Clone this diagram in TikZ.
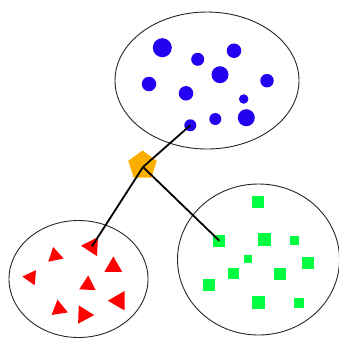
\documentclass[tikz,border=0pt]{standalone}
\usetikzlibrary{shapes.geometric}
\definecolor{dotblue}{RGB}{35,0,240}
\definecolor{trired}{RGB}{255,0,0}
\definecolor{sqgreen}{RGB}{0,255,64}
\definecolor{hubgold}{RGB}{250,175,0}
\tikzset{
  group/.style={ellipse, draw=black!85, line width=0.9pt, inner sep=0pt},
  dot/.style={circle, fill=dotblue, inner sep=0pt, minimum size=#1},
  tri/.style={regular polygon, regular polygon sides=3, fill=trired, inner sep=0pt, minimum size=#1},
  sq/.style={rectangle, fill=sqgreen, inner sep=0pt, minimum size=#1},
  hub/.style={regular polygon, regular polygon sides=5, fill=hubgold, inner sep=0pt, minimum size=30pt},
  link/.style={line width=1.8pt, black}
}
\begin{document}
\begin{tikzpicture}[x=1pt,y=-1pt]
\useasboundingbox (0,0) rectangle (339,338);

% three groups
\node[group, minimum width=184pt, minimum height=137pt] (gblue) at (207,80.5) {};
\node[group, minimum width=139pt, minimum height=117pt] (gred) at (78.5,279) {};
\node[group, minimum width=162pt, minimum height=151pt] (ggreen) at (258.5,259.5) {};

% blue circles
\node[dot=19pt] (b1) at (162.3,47.7) {};
\node[dot=13pt] (b2) at (197.7,59.3) {};
\node[dot=14.5pt] (b3) at (234,50.7) {};
\node[dot=17pt] (b4) at (220,74.7) {};
\node[dot=14.5pt] (b5) at (149,84) {};
\node[dot=14.5pt] (b6) at (186,93.3) {};
\node[dot=13.5pt] (b7) at (267,80.7) {};
\node[dot=9.5pt] (b8) at (243.7,99) {};
\node[dot=17pt] (b9) at (246.3,117.7) {};
\node[dot=12pt] (b10) at (215.3,119) {};
\node[dot=12pt] (b11) at (190.3,125.3) {};

% red triangles
\node[tri=22pt, rotate=87] (r1) at (92,246.3) {};
\node[tri=18pt, rotate=12] (r2) at (55,255.7) {};
\node[tri=20.5pt, rotate=0] (r3) at (113.3,266.7) {};
\node[tri=17.5pt, rotate=85] (r4) at (31,277.3) {};
\node[tri=19pt, rotate=-3] (r5) at (87.7,285) {};
\node[tri=22.5pt, rotate=90] (r6) at (119,300.7) {};
\node[tri=19pt, rotate=9] (r7) at (59,309) {};
\node[tri=21pt, rotate=28] (r8) at (83.7,314.7) {};

% green squares
\node[sq=12pt] (s1) at (258.3,202) {};
\node[sq=12pt] (s2) at (219.3,240.7) {};
\node[sq=13pt] (s3) at (264.3,239) {};
\node[sq=9.5pt] (s4) at (294.3,240.7) {};
\node[sq=8pt] (s5) at (248.3,259) {};
\node[sq=12pt] (s6) at (307.7,263.3) {};
\node[sq=10.7pt] (s7) at (233.7,273.7) {};
\node[sq=12pt] (s8) at (279.7,274) {};
\node[sq=12pt] (s9) at (209,285) {};
\node[sq=13pt] (s10) at (258,302.7) {};
\node[sq=10.7pt] (s11) at (299,303) {};

% central hub
\node[hub] (hub) at (142.5,165.5) {};
\coordinate (joint) at (143,167);

% links from the hub to one member of each group
\draw[link] (joint) -- (b11.center);
\draw[link] (joint) -- (r1.center);
\draw[link] (joint) -- (s2.center);
\end{tikzpicture}
\end{document}
